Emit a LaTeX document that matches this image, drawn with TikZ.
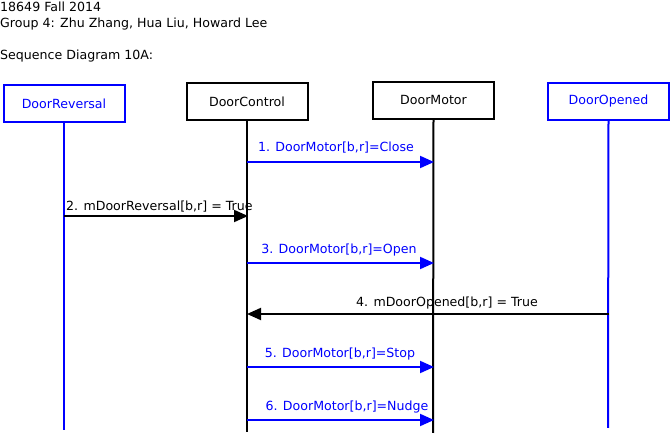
\documentclass[tikz,border=0pt]{standalone}
\usepackage{fontspec}
\setmainfont{DejaVu Sans}
\usetikzlibrary{arrows.meta}
\definecolor{seqblue}{RGB}{0,0,255}
\begin{document}
\begin{tikzpicture}[x=1pt,y=-1pt,
  every node/.style={font=\fontsize{12.6}{16}\selectfont, inner sep=0pt},
  actor/.style={draw, line width=2pt, minimum width=121pt, minimum height=37pt},
  blueactor/.style={actor, draw=seqblue, text=seqblue},
  life/.style={line width=2pt},
  msg/.style={line width=2pt, -{Triangle[length=14pt,width=12pt]}},
  bluemsg/.style={msg, draw=seqblue},
  lbl/.style={anchor=base},
  bluelbl/.style={lbl, text=seqblue}]
\useasboundingbox (0,0) rectangle (670,435);
\fill[white] (0,0) rectangle (670,435);
\node[anchor=base west] (hdr1) at (0,12) {18649 Fall 2014};
\node[anchor=base west] (hdr2) at (0,27.5) {Group 4: Zhu Zhang, Hua Liu, Howard Lee};
\node[anchor=base west] (title) at (0,59.5) {Sequence Diagram 10A:};

\node[blueactor] (rev) at (64,104) {DoorReversal};
\node[actor] (ctl) at (247,102) {DoorControl};
\node[actor] (mot) at (433.5,100.5) {DoorMotor};
\node[blueactor] (opn) at (608.5,101.5) {DoorOpened};

\coordinate (revE) at (64,430);
\coordinate (ctlE) at (247,432);
\coordinate (motE) at (433,433);
\coordinate (opnE) at (608,428);
\draw[life, seqblue] (rev.south) -- (revE);
\draw[life] (ctl.south) -- (ctlE);
\draw[life] (mot.south) -- (motE);
\draw[life, seqblue] (opn.south) -- (opnE);

% message 1
\coordinate (m1a) at (247,162); \coordinate (m1b) at (434,162);
\draw[bluemsg] (m1a) -- (m1b);
\node[bluelbl] (l1) at (336,152) {1. DoorMotor[b,r]=Close};
% message 2
\coordinate (m2a) at (64,216); \coordinate (m2b) at (248,216);
\draw[msg] (m2a) -- (m2b);
\node[lbl, anchor=base west] (l2) at (66,211) {2. mDoorReversal[b,r] = True};
% message 3
\coordinate (m3a) at (247,263); \coordinate (m3b) at (434,263);
\draw[bluemsg] (m3a) -- (m3b);
\node[bluelbl] (l3) at (339,254) {3. DoorMotor[b,r]=Open};
% message 4
\coordinate (m4a) at (609,314); \coordinate (m4b) at (247,314);
\draw[msg] (m4a) -- (m4b);
\node[lbl] (l4) at (447,307) {4. mDoorOpened[b,r] = True};
% message 5
\coordinate (m5a) at (247,367); \coordinate (m5b) at (434,367);
\draw[bluemsg] (m5a) -- (m5b);
\node[bluelbl] (l5) at (340,358) {5. DoorMotor[b,r]=Stop};
% message 6
\coordinate (m6a) at (247,420); \coordinate (m6b) at (434,420);
\draw[bluemsg] (m6a) -- (m6b);
\node[bluelbl] (l6) at (347,411) {6. DoorMotor[b,r]=Nudge};
\end{tikzpicture}
\end{document}
